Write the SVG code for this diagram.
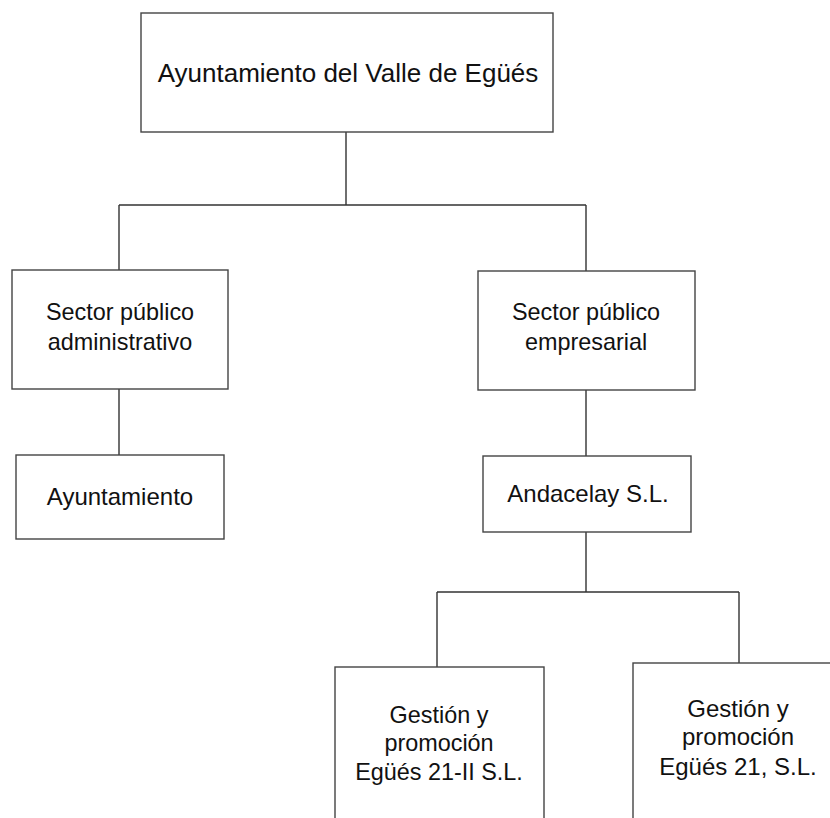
<svg xmlns="http://www.w3.org/2000/svg" width="830" height="818" viewBox="0 0 830 818">
<style>
.box{fill:#fff;stroke:#444;stroke-width:1.4}
.ln{fill:none;stroke:#333;stroke-width:1.4}
text{font-family:"Liberation Sans",Arial,Helvetica,sans-serif;font-size:24px;fill:#111;text-anchor:middle}
.big{font-size:26px}
.sm{font-size:23.4px}
</style>
<rect width="830" height="818" fill="#fff"/>
<g id="connectors">
<path class="ln" d="M346 132V205M119 205H586M119 205V270M586 205V271M119 389V455M586 390V456M586 532V592M437 592H739M437 592V667M739 592V663"/>
</g>
<g id="n-top"><rect class="box" x="141" y="13" width="412" height="119"/><text class="big" x="348" y="82">Ayuntamiento del Valle de Egüés</text></g>
<g id="n-adm"><rect class="box" x="12" y="270" width="216" height="119"/><text class="sm" x="120" y="320">Sector público</text><text class="sm" x="120" y="350">administrativo</text></g>
<g id="n-ayto"><rect class="box" x="16" y="455" width="208" height="84"/><text x="120" y="505">Ayuntamiento</text></g>
<g id="n-emp"><rect class="box" x="478" y="271" width="217" height="119"/><text class="sm" x="586" y="320">Sector público</text><text class="sm" x="586" y="350">empresarial</text></g>
<g id="n-and"><rect class="box" x="483" y="456" width="208" height="76"/><text x="588" y="502">Andacelay S.L.</text></g>
<g id="n-g2"><rect class="box" x="335" y="667" width="209" height="170"/><text class="sm" x="439" y="723">Gestión y</text><text class="sm" x="439" y="751">promoción</text><text class="sm" x="439" y="780">Egüés 21-II S.L.</text></g>
<g id="n-g1"><rect class="box" x="633" y="663" width="210" height="170"/><text x="738" y="717">Gestión y</text><text x="738" y="745">promoción</text><text x="738" y="775">Egüés 21, S.L.</text></g>
</svg>
